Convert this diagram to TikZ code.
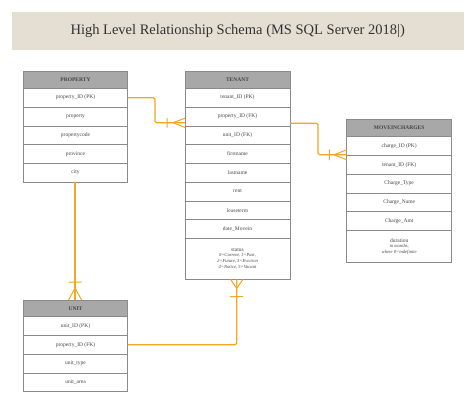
\documentclass[tikz,border=0pt]{standalone}
\usepackage{fontspec}
\setmainfont{Liberation Serif}
\usetikzlibrary{positioning}
\definecolor{band}{HTML}{E5DFD3}
\definecolor{hdr}{HTML}{A8A8A8}
\definecolor{edge}{HTML}{8A8A8A}
\definecolor{linkc}{HTML}{F5A623}
\definecolor{txt}{HTML}{444444}
\newcommand{\smallit}{\fontsize{4.6}{5.6}\selectfont\itshape}
\tikzset{
  hdrbox/.style={draw=edge, fill=hdr, line width=0.5pt, minimum width=104.4pt, minimum height=16.7pt,
    inner sep=0pt, outer sep=0pt, anchor=north west, text=txt, font=\fontsize{5.5}{6}\selectfont\bfseries},
  rowbox/.style={draw=edge, fill=white, line width=0.5pt, minimum width=104.4pt, minimum height=18.75pt,
    inner sep=0pt, outer sep=0pt, text=txt, font=\fontsize{5.5}{6}\selectfont, align=center},
  tallbox/.style={rowbox, minimum height=41pt},
  rel/.style={draw=linkc, line width=1.2pt, rounded corners=1.5pt},
  endmark/.style={draw=linkc, line width=1pt}
}
\begin{document}
\begin{tikzpicture}[x=1pt,y=-1pt]
\useasboundingbox (0,0) rectangle (474,404);
\fill[white] (0,0) rectangle (474,404);
% title
\node[fill=band, minimum width=451.6pt, minimum height=38.3pt, inner sep=0pt, anchor=north west,
  text=black!80, font=\fontsize{14.5}{16}\selectfont] (title) at (11.7,11.7) {High Level Relationship Schema (MS SQL Server 2018|)};
% PROPERTY
\node[hdrbox] (ph) at (23.3,71.6) {PROPERTY};
\node[rowbox, below=0pt of ph] (p1) {property\_ID (PK)};
\node[rowbox, below=0pt of p1] (p2) {property};
\node[rowbox, below=0pt of p2] (p3) {propertycode};
\node[rowbox, below=0pt of p3] (p4) {province};
\node[rowbox, below=0pt of p4] (p5) {city};
% TENANT
\node[hdrbox, minimum width=105pt] (th) at (185,71.6) {TENANT};
\node[rowbox, minimum width=105pt, below=0pt of th] (t1) {tenant\_ID (PK)};
\node[rowbox, minimum width=105pt, below=0pt of t1] (t2) {property\_ID (FK)};
\node[rowbox, minimum width=105pt, below=0pt of t2] (t3) {unit\_ID (FK)};
\node[rowbox, minimum width=105pt, below=0pt of t3] (t4) {firstname};
\node[rowbox, minimum width=105pt, below=0pt of t4] (t5) {lastname};
\node[rowbox, minimum width=105pt, below=0pt of t5] (t6) {rent};
\node[rowbox, minimum width=105pt, below=0pt of t6] (t7) {leaseterm};
\node[rowbox, minimum width=105pt, below=0pt of t7] (t8) {date\_Movein};
\node[tallbox, minimum width=105pt, below=0pt of t8] (t9) {status\\[-0.5pt]
  \smallit 0=Current, 1=Past,\\\smallit 2=Future, 3=Eviction\\\smallit 4=Notice, 5=Vacant};
% MOVEINCHARGES
\node[hdrbox, minimum width=105pt, minimum height=17.4pt] (mh) at (346.7,119.3) {MOVEINCHARGES};
\node[rowbox, minimum width=105pt, below=0pt of mh] (m1) {charge\_ID (PK)};
\node[rowbox, minimum width=105pt, below=0pt of m1] (m2) {tenant\_ID (FK)};
\node[rowbox, minimum width=105pt, below=0pt of m2] (m3) {Charge\_Type};
\node[rowbox, minimum width=105pt, below=0pt of m3] (m4) {Charge\_Name};
\node[rowbox, minimum width=105pt, below=0pt of m4] (m5) {Charge\_Amt};
\node[rowbox, minimum width=105pt, minimum height=32pt, below=0pt of m5] (m6) {duration\\[-0.5pt]
  \smallit in months,\\\smallit where 0=indefinite};
% UNIT
\node[hdrbox] (uh) at (23.3,300) {UNIT};
\node[rowbox, below=0pt of uh] (u1) {unit\_ID (PK)};
\node[rowbox, below=0pt of u1] (u2) {property\_ID (FK)};
\node[rowbox, below=0pt of u2] (u3) {unit\_type};
\node[rowbox, below=0pt of u3] (u4) {unit\_area};
% connector PROPERTY -> TENANT
\coordinate (e1) at (185,122.7);
\draw[rel] (p1.east) -| (155,122.7) -- (e1);
\draw[endmark] (173,122.7) -- (185,118.2) (173,122.7) -- (185,127.4) (167,118) -- (167,127.6);
% connector TENANT -> MOVEINCHARGES
\coordinate (s2) at (290,123.2);
\coordinate (e2) at (346.7,154.8);
\draw[rel] (s2) -| (318,154.8) -- (e2);
\draw[endmark] (334,154.8) -- (346.7,149.8) (334,154.8) -- (346.7,159.8) (329.4,149.6) -- (329.4,160);
% connector PROPERTY -> UNIT
\coordinate (s3) at (75,182.2);
\coordinate (e3) at (75,300);
\draw[rel] (s3) -- (e3);
\draw[endmark] (75,288) -- (68.6,300) (75,288) -- (81.6,300) (68.6,282) -- (81.6,282);
% connector UNIT -> TENANT
\coordinate (e4) at (236.7,279.3);
\draw[rel] (u2.east) -| (e4);
\draw[endmark] (236.7,288.5) -- (230.5,279.3) (236.7,288.5) -- (243,279.3) (230.2,296.5) -- (243.2,296.5);
\end{tikzpicture}
\end{document}
